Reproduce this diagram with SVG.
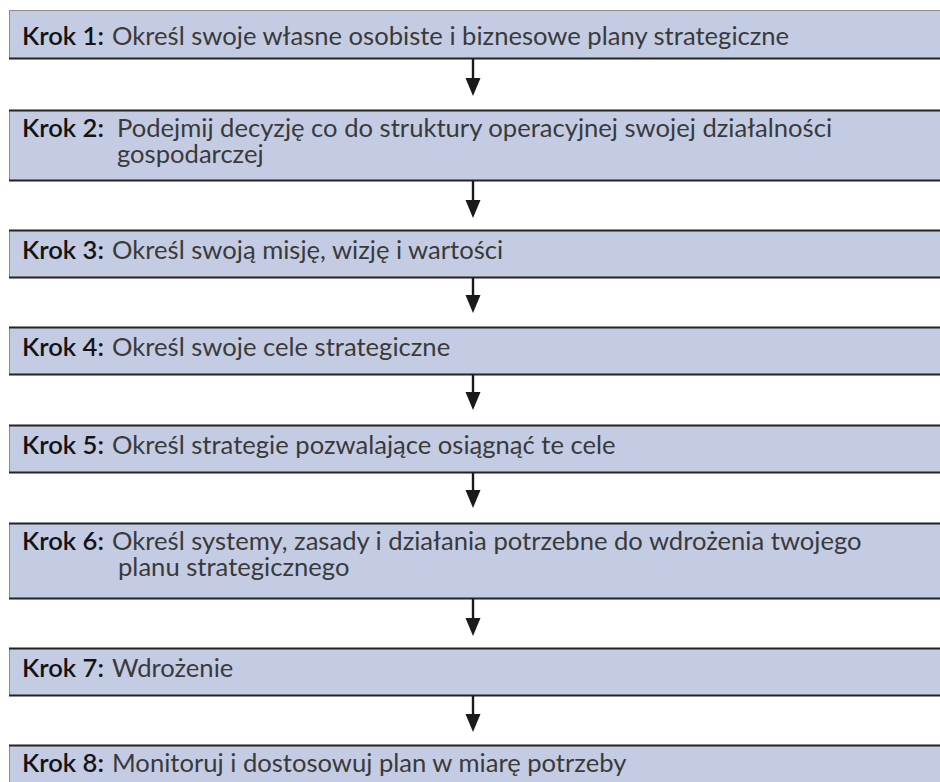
<svg xmlns="http://www.w3.org/2000/svg" width="940" height="782" viewBox="0 0 940 782">
  <style>
    .box { fill: #c4cce4; stroke: #8c8c8c; stroke-width: 1; }
    .edge { stroke: #232323; stroke-width: 2; }
    text { font-family: "Lato", "Noto Sans", "DejaVu Sans", sans-serif; font-size: 25.6px; fill: #3a3a3a; }
    .k { fill: #141414; font-weight: 600; }
    .link { stroke: #1a1a1a; stroke-width: 2.4; fill: none; }
    .head { fill: #1a1a1a; }
  </style>
  <rect width="940" height="782" fill="#ffffff"/>

  <!-- step boxes run off the right edge of the page -->
  <g id="step1">
    <rect class="box" x="9.5" y="10.5" width="940" height="48"/>
    <line class="edge" x1="9" y1="58.5" x2="940" y2="58.5"/>
    <text class="k" x="22" y="45">Krok 1:</text>
    <text x="112" y="45">Określ swoje własne osobiste i biznesowe plany strategiczne</text>
  </g>
  <g id="step2">
    <rect class="box" x="9.5" y="110.5" width="940" height="70"/>
    <line class="edge" x1="9" y1="110.5" x2="940" y2="110.5"/>
    <line class="edge" x1="9" y1="180.5" x2="940" y2="180.5"/>
    <text class="k" x="22" y="137">Krok 2:</text>
    <text x="117" y="137">Podejmij decyzję co do struktury operacyjnej swojej działalności</text>
    <text x="117" y="163">gospodarczej</text>
  </g>
  <g id="step3">
    <rect class="box" x="9.5" y="230.5" width="940" height="47"/>
    <line class="edge" x1="9" y1="230.5" x2="940" y2="230.5"/>
    <line class="edge" x1="9" y1="277.5" x2="940" y2="277.5"/>
    <text class="k" x="22" y="259">Krok 3:</text>
    <text x="112" y="259">Określ swoją misję, wizję i wartości</text>
  </g>
  <g id="step4">
    <rect class="box" x="9.5" y="327.5" width="940" height="47"/>
    <line class="edge" x1="9" y1="327.5" x2="940" y2="327.5"/>
    <line class="edge" x1="9" y1="374.5" x2="940" y2="374.5"/>
    <text class="k" x="22" y="356">Krok 4:</text>
    <text x="112" y="356">Określ swoje cele strategiczne</text>
  </g>
  <g id="step5">
    <rect class="box" x="9.5" y="425.5" width="940" height="47"/>
    <line class="edge" x1="9" y1="425.5" x2="940" y2="425.5"/>
    <line class="edge" x1="9" y1="472.5" x2="940" y2="472.5"/>
    <text class="k" x="22" y="454">Krok 5:</text>
    <text x="112" y="454">Określ strategie pozwalające osiągnąć te cele</text>
  </g>
  <g id="step6">
    <rect class="box" x="9.5" y="523.5" width="940" height="75"/>
    <line class="edge" x1="9" y1="523.5" x2="940" y2="523.5"/>
    <line class="edge" x1="9" y1="598.5" x2="940" y2="598.5"/>
    <text class="k" x="22" y="550">Krok 6:</text>
    <text x="112" y="550">Określ systemy, zasady i działania potrzebne do wdrożenia twojego</text>
    <text x="118" y="576">planu strategicznego</text>
  </g>
  <g id="step7">
    <rect class="box" x="9.5" y="648.5" width="940" height="47"/>
    <line class="edge" x1="9" y1="648.5" x2="940" y2="648.5"/>
    <line class="edge" x1="9" y1="695.5" x2="940" y2="695.5"/>
    <text class="k" x="22" y="677">Krok 7:</text>
    <text x="112" y="677">Wdrożenie</text>
  </g>
  <g id="step8">
    <rect class="box" x="9.5" y="745.5" width="940" height="60"/>
    <line class="edge" x1="9" y1="745.5" x2="940" y2="745.5"/>
    <text class="k" x="22" y="772">Krok 8:</text>
    <text x="112" y="772">Monitoruj i dostosowuj plan w miarę potrzeby</text>
  </g>

  <g id="connectors">
    <line class="link" x1="473" y1="59" x2="473" y2="80"/>
    <path class="head" d="M465.5,78 L480.5,78 L473,96 Z"/>
    <line class="link" x1="473" y1="181" x2="473" y2="202"/>
    <path class="head" d="M465.5,200 L480.5,200 L473,218 Z"/>
    <line class="link" x1="473" y1="278" x2="473" y2="297"/>
    <path class="head" d="M465.5,295 L480.5,295 L473,313 Z"/>
    <line class="link" x1="473" y1="375" x2="473" y2="394"/>
    <path class="head" d="M465.5,392 L480.5,392 L473,410 Z"/>
    <line class="link" x1="473" y1="473" x2="473" y2="492"/>
    <path class="head" d="M465.5,490 L480.5,490 L473,508 Z"/>
    <line class="link" x1="473" y1="599" x2="473" y2="620"/>
    <path class="head" d="M465.5,618 L480.5,618 L473,636 Z"/>
    <line class="link" x1="473" y1="696" x2="473" y2="716"/>
    <path class="head" d="M465.5,714 L480.5,714 L473,732 Z"/>
  </g>
</svg>
